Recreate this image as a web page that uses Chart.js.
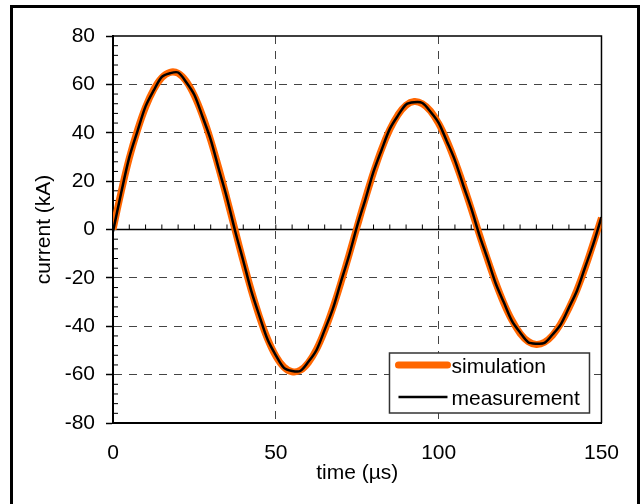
<!DOCTYPE html>
<html>
<head>
<meta charset="utf-8">
<script src="https://cdn.jsdelivr.net/npm/chart.js@4/dist/chart.umd.min.js"></script>
<style>
  html, body { margin: 0; padding: 0; background: #fff; overflow: hidden; }
  #frame { position: absolute; left: 10px; top: 5px; width: 624px; height: 520px; border: 3px solid #000; background: #fff; }
  #box { position: relative; width: 624px; height: 496px; }
</style>
</head>
<body>
<div id="frame"><div id="box"><canvas id="chart"></canvas></div></div>
<script>
const time = [0, 2.5, 5, 7.5, 10, 12.5, 15, 17.5, 20, 22.5, 25, 27.5, 30, 32.5, 35, 37.5,
  40, 42.5, 45, 47.5, 50, 52.5, 55, 57.5, 60, 62.5, 65, 67.5, 70, 72.5, 75, 77.5,
  80, 82.5, 85, 87.5, 90, 92.5, 95, 97.5, 100, 102.5, 105, 107.5, 110, 112.5, 115, 117.5,
  120, 122.5, 125, 127.5, 130, 132.5, 135, 137.5, 140, 142.5, 145, 147.5, 150]

const simulation = [0, 15.5, 29.5, 41.0, 50.6, 57.9, 62.8, 65.0, 64.6, 61.3, 55.3, 47.0, 36.9, 25.3, 12.7, -0.3,
  -13.2, -25.3, -36.2, -45.3, -52.3, -56.9, -58.8, -58.2, -55.0, -49.5, -41.8, -32.5, -21.9, -10.4, 1.3, 12.8,
  23.6, 33.3, 41.3, 47.4, 51.4, 52.9, 52.0, 49.0, 43.8, 36.8, 28.3, 18.8, 8.5, -2.0, -12.3, -21.9,
  -30.4, -37.5, -42.9, -46.3, -47.5, -46.6, -43.7, -38.9, -32.6, -24.9, -15.8, -5.6, 4.8]

const measurement = [-0.8, 15.1, 29.8, 40.6, 50.9, 57.5, 63.1, 64.6, 64.9, 60.9, 55.6, 46.6, 37.2, 24.9, 13.0, -0.6,
  -12.9, -25.6, -35.9, -45.6, -52.0, -57.2, -58.5, -58.5, -54.7, -49.8, -41.5, -32.8, -21.6, -10.7, 1.6, 12.5,
  23.9, 33.0, 41.6, 47.1, 51.7, 52.6, 52.3, 48.7, 44.1, 36.5, 28.6, 18.5, 8.8, -2.3, -12.0, -22.2,
  -30.1, -37.8, -42.6, -46.6, -47.2, -46.9, -43.4, -39.2, -32.3, -25.2, -15.5, -5.9, 5.1]

const xTicks = [0, 50, 100, 150]
const yTicks = [-80, -60, -40, -20, 0, 20, 40, 60, 80]
const xMinor = 5
const yMinor = 4

const FONT = '"Liberation Sans", Arial, sans-serif'
Chart.defaults.font.family = FONT
Chart.defaults.color = '#000'

// dashed grid only inside, borders / zero line drawn by hand
const gridColor = (edges) => (c) => (c.tick && edges.includes(c.tick.value)) ? 'rgba(0,0,0,0)' : '#444'

const extras = {
  id: 'extras',
  beforeDatasetsDraw (chart) {
    const { ctx, chartArea: a, scales: { x, y } } = chart
    const y0 = y.getPixelForValue(0)
    ctx.save()
    ctx.strokeStyle = '#000'
    ctx.lineWidth = 1.5
    ctx.beginPath()
    ctx.moveTo(a.left, a.top); ctx.lineTo(a.right, a.top); ctx.lineTo(a.right, a.bottom)
    ctx.moveTo(a.left, y0); ctx.lineTo(a.right, y0)
    ctx.stroke()
    ctx.lineWidth = 1
    ctx.beginPath()
    for (let v = y.min; v <= y.max; v += yMinor) {
      if (v % 20 === 0) continue
      const p = y.getPixelForValue(v)
      ctx.moveTo(a.left, p); ctx.lineTo(a.left + 5, p)
    }
    for (let v = x.min + xMinor; v < x.max; v += xMinor) {
      const p = x.getPixelForValue(v)
      ctx.moveTo(p, y0); ctx.lineTo(p, y0 - 5)
    }
    ctx.stroke()
    ctx.restore()
  },
  afterDraw (chart) {
    const { ctx, chartArea: a } = chart
    const w = 200, h = 60
    const left = a.right - 12 - w
    const top = a.bottom - 10 - h
    ctx.save()
    ctx.fillStyle = '#fff'
    ctx.fillRect(left, top, w, h)
    ctx.strokeStyle = '#333'
    ctx.lineWidth = 1.5
    ctx.strokeRect(left, top, w, h)
    const rows = [{ ds: chart.data.datasets[0], y: top + 12 }, { ds: chart.data.datasets[1], y: top + 44 }]
    ctx.font = '21px ' + FONT
    ctx.textBaseline = 'middle'
    ctx.textAlign = 'left'
    rows.forEach(r => {
      ctx.strokeStyle = r.ds.borderColor
      ctx.lineWidth = r.ds.borderWidth
      ctx.lineCap = r.ds.borderWidth > 4 ? 'round' : 'butt'
      ctx.beginPath()
      ctx.moveTo(left + 9, r.y); ctx.lineTo(left + 58, r.y)
      ctx.stroke()
      ctx.fillStyle = '#000'
      ctx.fillText(r.ds.label, left + 62, r.y + 2)
    })
    ctx.restore()
  }
}

const chart = new Chart(document.getElementById('chart').getContext('2d'), {
  type: 'line',
  data: {
    datasets: [
      {
        label: 'simulation',
        data: time.map((t, i) => ({ x: t, y: simulation[i] })),
        borderColor: '#ff6600',
        borderWidth: 7,
        pointRadius: 0,
        tension: 0.4,
        order: 2
      },
      {
        label: 'measurement',
        data: time.map((t, i) => ({ x: t, y: measurement[i] })),
        borderColor: '#000',
        borderWidth: 2.5,
        pointRadius: 0,
        tension: 0.3,
        order: 1
      }
    ]
  },
  options: {
    responsive: true,
    maintainAspectRatio: false,
    animation: false,
    layout: { padding: { top: 28, right: 31, left: 0, bottom: 0 } },
    plugins: {
      legend: { display: false },
      tooltip: { enabled: false },
      title: { display: false }
    },
    scales: {
      x: {
        type: 'linear',
        min: 0,
        max: 150,
        afterBuildTicks: s => { s.ticks = xTicks.map(v => ({ value: v })) },
        afterFit: s => { s.height = 81 },
        ticks: { font: { size: 21 }, padding: 18, maxRotation: 0 },
        grid: { drawTicks: false, color: gridColor([0, 150]), lineWidth: 1 },
        border: { display: true, color: '#000', width: 2, dash: [8, 7] },
        title: { display: true, text: 'time (µs)', font: { size: 21 }, padding: { top: 0, bottom: 18 } }
      },
      y: {
        type: 'linear',
        min: -80,
        max: 80,
        afterBuildTicks: s => { s.ticks = yTicks.map(v => ({ value: v })) },
        afterFit: s => { s.width = 100 },
        ticks: { font: { size: 21 }, padding: 11 },
        grid: {
          drawTicks: true,
          tickLength: 7,
          tickColor: '#000',
          tickWidth: 1.5,
          tickBorderDash: [],
          color: gridColor([-80, 0, 80]),
          lineWidth: 1
        },
        border: { display: true, color: '#000', width: 2, dash: [8, 7] },
        title: { display: true, text: 'current (kA)', font: { size: 21 }, padding: { top: 19, bottom: 0 } }
      }
    }
  },
  plugins: [extras]
})
</script>
</body>
</html>
